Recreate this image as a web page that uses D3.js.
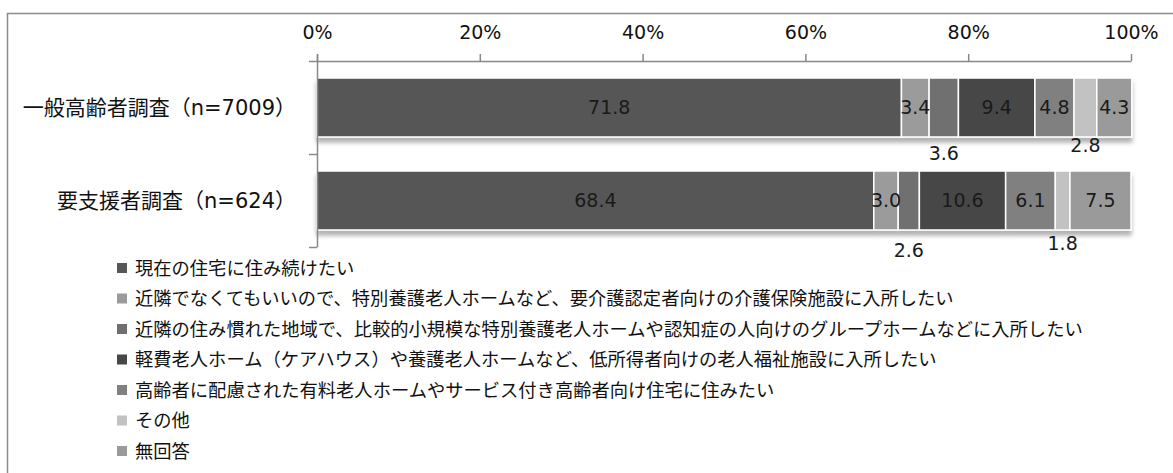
<!DOCTYPE html>
<html>
<head>
<meta charset="utf-8">
<script src="https://cdn.jsdelivr.net/npm/d3@7"></script>
<style>
  body { margin: 0; background: #fff; }
  svg { display: block; font-family: "DejaVu Sans", Verdana, "Noto Sans CJK JP", sans-serif; }
</style>
</head>
<body>
<svg id="chart" width="1173" height="473"></svg>
<script>
// survey groups (rows)
const categories = ["一般高齢者調査（n=7009）", "要支援者調査（n=624）"];

// answer options (legend order = stack order)
const seriesNames = [
  "現在の住宅に住み続けたい",
  "近隣でなくてもいいので、特別養護老人ホームなど、要介護認定者向けの介護保険施設に入所したい",
  "近隣の住み慣れた地域で、比較的小規模な特別養護老人ホームや認知症の人向けのグループホームなどに入所したい",
  "軽費老人ホーム（ケアハウス）や養護老人ホームなど、低所得者向けの老人福祉施設に入所したい",
  "高齢者に配慮された有料老人ホームやサービス付き高齢者向け住宅に住みたい",
  "その他",
  "無回答"
];

const generalValues = [71.8, 3.4, 3.6, 9.4, 4.8, 2.8, 4.3];
const supportValues = [68.4, 3.0, 2.6, 10.6, 6.1, 1.8, 7.5];

const tickValues = [0, 20, 40, 60, 80, 100];

const colors = ["#565656", "#9b9b9b", "#6f6f6f", "#474747", "#808080", "#c2c2c2", "#9a9a9a"];

// small segments get their label pushed under the bar (px)
const labelDrop = [
  [0, 0, 16, 0, 0, 8, 0],
  [0, 0, 20, 0, 0, 13, 0]
];

const svg = d3.select("#chart");

const margin = { top: 61, left: 317, right: 42 };
const width = 1173, plotBottom = 247;

const x = d3.scaleLinear().domain([0, 100]).range([margin.left, width - margin.right]);
const y = d3.scaleBand().domain(categories).range([margin.top, plotBottom])
  .paddingInner(0.366).paddingOuter(0.183);

// frame
svg.append("rect")
  .attr("x", 7.5).attr("y", 13.5)
  .attr("width", 1200).attr("height", 500)
  .attr("fill", "none").attr("stroke", "#8c8c8c").attr("stroke-width", 1.5);

const defs = svg.append("defs");
const f = defs.append("filter").attr("id", "shadow")
  .attr("x", "-5%").attr("y", "-20%").attr("width", "110%").attr("height", "150%");
f.append("feDropShadow").attr("dx", 0).attr("dy", 5).attr("stdDeviation", 2)
  .attr("flood-color", "#000").attr("flood-opacity", 0.3);

// stacked data
const rows = [generalValues, supportValues].map((vals, i) => {
  let acc = 0;
  return vals.map((v, j) => {
    const d = { cat: categories[i], row: i, idx: j, value: v, x0: acc, x1: acc + v };
    acc += v;
    return d;
  });
});

const barG = svg.append("g").selectAll("g")
  .data(rows).enter().append("g")
  .attr("filter", "url(#shadow)");

barG.selectAll("rect")
  .data(d => d).enter().append("rect")
  .attr("x", d => x(d.x0))
  .attr("y", d => y(d.cat))
  .attr("width", d => x(d.x1) - x(d.x0))
  .attr("height", y.bandwidth())
  .attr("fill", d => colors[d.idx])
  .attr("stroke", "#fff")
  .attr("stroke-width", 1.5);

// value labels
svg.append("g").selectAll("text")
  .data(rows.flat()).enter().append("text")
  .attr("x", d => x((d.x0 + d.x1) / 2))
  .attr("y", d => {
    const drop = labelDrop[d.row][d.idx];
    return drop ? y(d.cat) + y.bandwidth() + drop : y(d.cat) + y.bandwidth() / 2;
  })
  .attr("dy", "0.36em")
  .attr("text-anchor", "middle")
  .attr("font-size", 19)
  .attr("fill", "#1a1a1a")
  .text(d => d.value.toFixed(1));

// top axis
const xAxis = svg.append("g")
  .attr("transform", `translate(0,${margin.top})`)
  .call(d3.axisTop(x).tickValues(tickValues).tickFormat(d => d + "%")
    .tickSize(7).tickPadding(15).tickSizeOuter(0));
xAxis.select(".domain").attr("stroke", "#888").attr("stroke-width", 1.5);
xAxis.selectAll(".tick line").attr("stroke", "#888").attr("stroke-width", 1.5);
xAxis.selectAll(".tick text").attr("font-size", 19).attr("fill", "#111")
  .attr("font-family", "DejaVu Sans, Verdana, sans-serif");

// left axis with ticks at band boundaries
const bounds = d3.range(categories.length + 1).map(i => margin.top + i * y.step());
const yAxis = svg.append("g")
  .attr("transform", `translate(${margin.left},0)`)
  .call(d3.axisLeft(d3.scaleLinear().domain([margin.top - 7, plotBottom]).range([margin.top - 7, plotBottom]))
    .tickValues(bounds).tickFormat("").tickSize(8).tickSizeOuter(0));
yAxis.select(".domain").attr("stroke", "#888").attr("stroke-width", 1.5);
yAxis.selectAll(".tick line").attr("stroke", "#888").attr("stroke-width", 1.5);

// category labels
svg.append("g").selectAll("text")
  .data(categories).enter().append("text")
  .attr("x", 296)
  .attr("y", d => y(d) + y.bandwidth() / 2)
  .attr("dy", "0.36em")
  .attr("text-anchor", "end")
  .attr("font-size", 21)
  .attr("fill", "#111")
  .text(d => d);

// legend
const legend = svg.append("g").attr("transform", "translate(117,268)");
const item = legend.selectAll("g")
  .data(seriesNames).enter().append("g")
  .attr("transform", (d, i) => `translate(0,${i * 30.5})`);
item.append("rect")
  .attr("x", 0).attr("y", -5)
  .attr("width", 10).attr("height", 10)
  .attr("fill", (d, i) => colors[i]);
item.append("text")
  .attr("x", 18).attr("dy", "0.36em")
  .attr("font-size", 18.3)
  .attr("fill", "#111")
  .text(d => d);
</script>
</body>
</html>
